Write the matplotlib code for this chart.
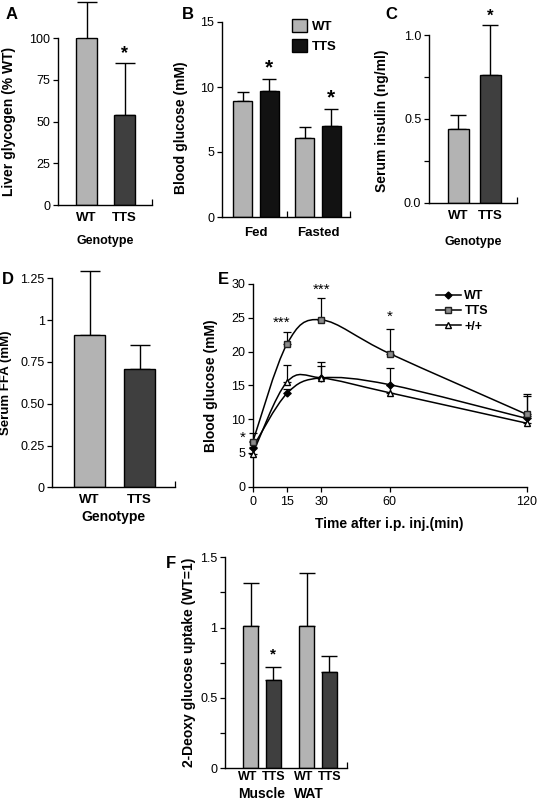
import numpy as np
import matplotlib
matplotlib.use('Agg')
import matplotlib.pyplot as plt
from matplotlib.path import Path
from matplotlib.patches import PathPatch, Patch
from matplotlib.lines import Line2D
from matplotlib.transforms import blended_transform_factory

plt.rcParams['font.family'] = ['Liberation Sans', 'DejaVu Sans']

# A - liver glycogen
glyc_groups = ['WT', 'TTS']
glyc_mean = [100, 54]
glyc_err = [22, 31]

# B - blood glucose fed / fasted
bg_conditions = ['Fed', 'Fasted']
bg_wt_mean = [8.9, 6.05]
bg_wt_err = [0.75, 0.85]
bg_tts_mean = [9.7, 7.0]
bg_tts_err = [0.95, 1.3]

# C - serum insulin
ins_groups = ['WT', 'TTS']
ins_mean = [0.44, 0.76]
ins_err = [0.08, 0.30]

# D - serum FFA
ffa_groups = ['WT', 'TTS']
ffa_mean = [0.91, 0.705]
ffa_err = [0.385, 0.145]

# E - glucose tolerance test
gtt_time = [0, 15, 30, 60, 120]
gtt_wt = [5.8, 13.8, 16.1, 15.1, 10.1]
gtt_wt_err = [0.9, 0.6, 1.8, 2.4, 3.3]
gtt_tts = [6.6, 21.1, 24.7, 19.7, 10.7]
gtt_tts_err = [1.3, 1.8, 3.2, 3.7, 3.0]
gtt_pp = [4.9, 15.5, 16.1, 13.9, 9.4]
gtt_pp_err = [1.0, 2.5, 2.3, 1.2, 1.0]

# F - 2-deoxy glucose uptake
dg_tissues = ['Muscle', 'WAT']
dg_wt_mean = [1.01, 1.01]
dg_wt_err = [0.31, 0.38]
dg_tts_mean = [0.63, 0.685]
dg_tts_err = [0.09, 0.11]

LIGHT = '#b3b3b3'
DARK = '#3f3f3f'
BLACK = '#121212'

W, H = 537, 806
fig = plt.figure(figsize=(W / 100, H / 100), dpi=100)


def add_ax(l, t, r, b):
    return fig.add_axes([l / W, 1 - b / H, (r - l) / W, (b - t) / H])


def style(ax):
    ax.spines['top'].set_visible(False)
    ax.spines['right'].set_visible(False)
    for s in ['left', 'bottom']:
        ax.spines[s].set_linewidth(1.0)
    ax.tick_params(axis='y', which='both', direction='out', length=3.5, width=0.9,
                   labelsize=9, pad=2)
    ax.tick_params(axis='x', which='major', length=0, labelsize=9.5, pad=5)
    ax.tick_params(axis='x', which='minor', direction='in', length=4, width=0.9)


def upper_err(ax, x, mean, err, cap):
    eb = ax.errorbar(x, mean, yerr=[np.zeros(len(err)), err], fmt='none',
                     ecolor='black', elinewidth=1.0, capsize=cap, capthick=1.0,
                     zorder=1)
    for art in eb.lines[1] + eb.lines[2]:
        art.set_clip_on(False)


def star(ax, x, y, size=13):
    ax.text(x, y, '*', ha='center', va='center', fontsize=size,
            fontweight='bold', clip_on=False)


def panel_label(x, y, s):
    fig.text(x / W, 1 - y / H, s, fontsize=12, fontweight='bold', va='top', ha='left')


# ---------------- A ----------------
ax = add_ax(58, 38.3, 152, 205)
style(ax)
xa = np.arange(len(glyc_groups))
ax.bar(xa, glyc_mean, width=0.55, color=[LIGHT, DARK], edgecolor='black', linewidth=1, zorder=2)
upper_err(ax, xa, glyc_mean, glyc_err, 7)
ax.set_xlim(-0.75, 1.72)
ax.set_ylim(0, 100)
ax.set_yticks([0, 25, 50, 75, 100])
ax.set_xticks(xa)
ax.set_xticklabels(glyc_groups, fontweight='bold')
ax.set_xticks([1.72], minor=True)
ax.set_ylabel('Liver glycogen (% WT)', fontsize=10, fontweight='bold')
ax.yaxis.set_label_coords(-0.45, 0.5)
ax.set_xlabel('Genotype', fontsize=9, fontweight='bold')
ax.xaxis.set_label_coords(0.5, -0.18)
star(ax, 1, 91)
panel_label(6, 7, 'A')

# ---------------- B ----------------
ax = add_ax(221.7, 22, 350, 217)
style(ax)
xb = np.arange(len(bg_conditions))
off, wb = 0.214, 0.31
ax.bar(xb - off, bg_wt_mean, width=wb, color=LIGHT, edgecolor='black', linewidth=1, zorder=2)
ax.bar(xb + off, bg_tts_mean, width=wb, color=BLACK, edgecolor='black', linewidth=1, zorder=2)
upper_err(ax, xb - off, bg_wt_mean, bg_wt_err, 4)
upper_err(ax, xb + off, bg_tts_mean, bg_tts_err, 5)
ax.set_xlim(-0.553, 1.516)
ax.set_ylim(0, 15)
ax.set_yticks([0, 5, 10, 15])
ax.set_xticks(xb)
ax.set_xticklabels(bg_conditions, fontweight='bold')
ax.tick_params(axis='x', which='major', pad=7)
ax.set_xticks([0.5, 1.516], minor=True)
ax.set_ylabel('Blood glucose (mM)', fontsize=10, fontweight='bold')
ax.yaxis.set_label_coords(-0.26, 0.46)
for i in range(len(bg_conditions)):
    star(ax, xb[i] + off, bg_tts_mean[i] + bg_tts_err[i] + 0.85, 15)
leg = ax.legend(handles=[Patch(facecolor=LIGHT, edgecolor='black', label='WT'),
                         Patch(facecolor=BLACK, edgecolor='black', label='TTS')],
                loc='upper left', bbox_to_anchor=(0.5, 1.05), frameon=False,
                handlelength=1.1, handleheight=1.1, handletextpad=0.4,
                labelspacing=0.5, borderpad=0, prop={'weight': 'bold', 'size': 9.5})
panel_label(182, 7, 'B')

# ---------------- C ----------------
ax = add_ax(429, 35, 516.7, 202.7)
style(ax)
xc = np.arange(len(ins_groups))
ax.bar(xc, ins_mean, width=0.66, color=[LIGHT, DARK], edgecolor='black', linewidth=1, zorder=2)
upper_err(ax, xc, ins_mean, ins_err, 6)
ax.set_xlim(-0.92, 1.82)
ax.set_ylim(0, 1.0)
ax.set_yticks([0.0, 0.5, 1.0])
ax.set_yticklabels(['0.0', '0.5', '1.0'])
ax.set_yticks([0.25, 0.75], minor=True)
ax.set_xticks(xc)
ax.set_xticklabels(ins_groups, fontweight='bold')
ax.set_xticks([1.82], minor=True)
ax.set_ylabel('Serum insulin (ng/ml)', fontsize=10, fontweight='bold')
ax.yaxis.set_label_coords(-0.46, 0.49)
ax.set_xlabel('Genotype', fontsize=9, fontweight='bold')
ax.xaxis.set_label_coords(0.5, -0.2)
star(ax, 1, 1.11, 12)
panel_label(385, 7, 'C')

# ---------------- D ----------------
ax = add_ax(52.3, 278.3, 175, 487.3)
style(ax)
xd = np.arange(len(ffa_groups))
ax.bar(xd, ffa_mean, width=0.62, color=[LIGHT, DARK], edgecolor='black', linewidth=1, zorder=2)
upper_err(ax, xd, ffa_mean, ffa_err, 7)
ax.set_xlim(-0.744, 1.71)
ax.set_ylim(0, 1.25)
ax.set_yticks([0, 0.25, 0.5, 0.75, 1.0, 1.25])
ax.set_yticklabels(['0', '0.25', '0.50', '0.75', '1', '1.25'])
ax.set_xticks(xd)
ax.set_xticklabels(ffa_groups, fontweight='bold')
ax.set_xticks([1.71], minor=True)
ax.set_ylabel('Serum FFA (mM)', fontsize=9.5, fontweight='bold')
ax.yaxis.set_label_coords(-0.33, 0.5)
ax.set_xlabel('Genotype', fontsize=10, fontweight='bold', labelpad=3)
panel_label(2, 272, 'D')


# ---------------- E ----------------
def smooth_path(xs, ys):
    pts = np.column_stack([xs, ys]).astype(float)
    n = len(pts)
    verts = [pts[0]]
    codes = [Path.MOVETO]
    for i in range(n - 1):
        p0 = pts[max(i - 1, 0)]
        p1 = pts[i]
        p2 = pts[i + 1]
        p3 = pts[min(i + 2, n - 1)]
        verts += [p1 + (p2 - p0) / 6.0, p2 - (p3 - p1) / 6.0, p2]
        codes += [Path.CURVE4] * 3
    return Path(verts, codes)


ax = add_ax(252.7, 284, 526.7, 486.7)
style(ax)
ax.tick_params(axis='x', which='major', direction='out', length=3.5, width=0.9, labelsize=9, pad=3)
series = [
    (gtt_wt, gtt_wt_err, 'WT', dict(marker='D', markersize=3.5, markerfacecolor='black', markeredgecolor='black')),
    (gtt_tts, gtt_tts_err, 'TTS', dict(marker='s', markersize=5, markerfacecolor='#8c8c8c', markeredgecolor='#222222')),
    (gtt_pp, gtt_pp_err, '+/+', dict(marker='^', markersize=5, markerfacecolor='white', markeredgecolor='black')),
]
handles = []
for ys, errs, lab, mk in series:
    ax.add_patch(PathPatch(smooth_path(gtt_time, ys), facecolor='none', edgecolor='black', lw=1.1, zorder=2))
    eb = ax.errorbar(gtt_time, ys, yerr=[np.zeros(len(errs)), errs], fmt='none',
                     ecolor='black', elinewidth=0.9, capsize=3, capthick=0.9, zorder=1)
    for art in eb.lines[1] + eb.lines[2]:
        art.set_clip_on(False)
    ax.plot(gtt_time, ys, linestyle='none', zorder=3, clip_on=False, **mk)
    handles.append(Line2D([], [], color='black', lw=1.1, label=lab, **mk))
ax.set_xlim(0, 120)
ax.set_ylim(0, 30)
ax.set_xticks(gtt_time)
ax.set_yticks(np.arange(0, 31, 5))
ax.set_xlabel('Time after i.p. inj.(min)', fontsize=10, fontweight='bold', labelpad=7)
ax.set_ylabel('Blood glucose (mM)', fontsize=10, fontweight='bold')
ax.yaxis.set_label_coords(-0.127, 0.5)
ax.legend(handles=handles, loc='upper left', bbox_to_anchor=(0.645, 1.0), frameon=False,
          handlelength=2.0, handletextpad=0.3, labelspacing=0.25, borderpad=0,
          prop={'weight': 'bold', 'size': 9})
ax.text(-4.2, 7.2, '*', ha='center', va='center', fontsize=11, clip_on=False)
ax.text(12.7, 24.2, '***', ha='center', va='center', fontsize=11, clip_on=False)
ax.text(30, 29.2, '***', ha='center', va='center', fontsize=11, clip_on=False)
ax.text(60, 25.2, '*', ha='center', va='center', fontsize=11, clip_on=False)
panel_label(218, 272, 'E')

# ---------------- F ----------------
ax = add_ax(225, 557.3, 346.7, 768.3)
style(ax)
xf = np.arange(len(dg_tissues))
off, wf = 0.2, 0.266
ax.bar(xf - off, dg_wt_mean, width=wf, color=LIGHT, edgecolor='black', linewidth=1, zorder=2)
ax.bar(xf + off, dg_tts_mean, width=wf, color=DARK, edgecolor='black', linewidth=1, zorder=2)
upper_err(ax, xf - off, dg_wt_mean, dg_wt_err, 5.5)
upper_err(ax, xf + off, dg_tts_mean, dg_tts_err, 5.5)
ax.set_xlim(-0.654, 1.506)
ax.set_ylim(0, 1.5)
ax.set_yticks([0, 0.5, 1.0, 1.5])
ax.set_yticklabels(['0', '0.5', '1', '1.5'])
ax.set_yticks([0.25, 0.75, 1.25], minor=True)
ax.set_xticks(np.concatenate([xf - off - 0.06, xf + off + 0.01]))
ax.set_xticklabels(['WT', 'WT', 'TTS', 'TTS'], fontweight='bold', fontsize=9)
ax.tick_params(axis='x', which='major', pad=2)
ax.set_xticks([1.506], minor=True)
ax.set_ylabel('2-Deoxy glucose uptake (WT=1)', fontsize=10, fontweight='bold')
ax.yaxis.set_label_coords(-0.24, 0.5)
trans = blended_transform_factory(ax.transData, ax.transAxes)
for i, t in enumerate(dg_tissues):
    ax.text(xf[i] - 0.16 * i, -0.12, t, transform=trans, ha='center', va='center',
            fontsize=10, fontweight='bold')
star(ax, xf[0] + off, 0.81, 11)
panel_label(166, 556, 'F')

fig.savefig('out.png', dpi=100)
